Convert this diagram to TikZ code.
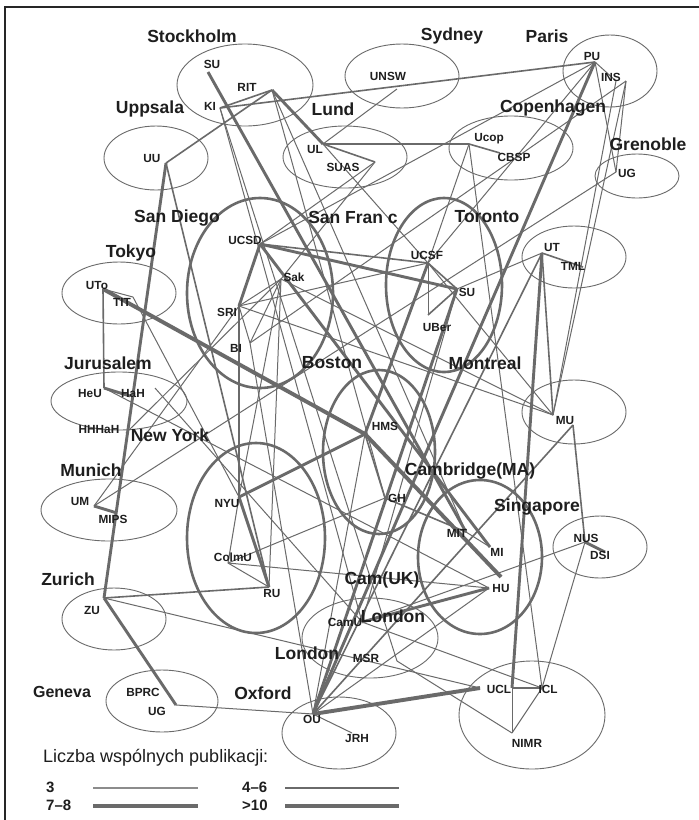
\documentclass[tikz,border=0pt]{standalone}
\usepackage{fontspec}
\setmainfont{Liberation Sans}
\definecolor{lc}{HTML}{6A6A6A}
\definecolor{lcl}{HTML}{8C8C8C}
\definecolor{tc}{HTML}{1E1E1E}
\begin{document}
\begin{tikzpicture}[x=1pt,y=-1pt,
 e3/.style={draw=lc,line width=1pt},
 e46/.style={draw=lc,line width=1.6pt},
 e78/.style={draw=lc,line width=2.9pt},
 e10/.style={draw=lc,line width=3.9pt},
 ell/.style={draw=lc,line width=0.9pt},
 ellT/.style={draw=lc,line width=2.6pt},
 city/.style={font=\fontsize{17.5}{17.5}\selectfont\bfseries,text=tc,inner sep=0pt},
 inst/.style={font=\fontsize{11.8}{11.8}\selectfont\bfseries,text=tc,inner sep=0pt},
 leg/.style={font=\fontsize{15}{15}\selectfont\bfseries,text=tc,inner sep=0pt,anchor=west},
]
\useasboundingbox (0,0) rectangle (699,820);
\fill[white] (0,0) rectangle (699,820);
\draw[line width=1.4pt,draw=black!85] (5,820) -- (5,7) -- (699,7);

% ---------- ellipses ----------
\draw[ell] (245,85) ellipse [x radius=68pt,y radius=41pt];
\draw[ell] (156,158) ellipse [x radius=52pt,y radius=32pt];
\draw[ell] (345,157) ellipse [x radius=62pt,y radius=31pt];
\draw[ell] (402,76) ellipse [x radius=57pt,y radius=32pt];
\draw[ell] (610,71) ellipse [x radius=47pt,y radius=36pt];
\draw[ell] (511,148) ellipse [x radius=62pt,y radius=32pt];
\draw[ell] (637,176) ellipse [x radius=42pt,y radius=22pt];
\draw[ellT] (260,293) ellipse [x radius=73pt,y radius=95pt];
\draw[ellT] (444,285) ellipse [x radius=58pt,y radius=87pt];
\draw[ell] (574,257) ellipse [x radius=52pt,y radius=31pt];
\draw[ell] (119,293) ellipse [x radius=57pt,y radius=31pt];
\draw[ell] (119,401) ellipse [x radius=68pt,y radius=29pt];
\draw[ell] (109,510) ellipse [x radius=68pt,y radius=31pt];
\draw[ellT] (256,538) ellipse [x radius=69pt,y radius=95pt];
\draw[ellT] (379,452) ellipse [x radius=56pt,y radius=82pt];
\draw[ell] (574,412) ellipse [x radius=52pt,y radius=32pt];
\draw[ellT] (480,557) ellipse [x radius=62pt,y radius=77pt];
\draw[ell] (600,547) ellipse [x radius=47pt,y radius=31pt];
\draw[ell] (114,619) ellipse [x radius=52pt,y radius=31pt];
\draw[ell] (162,701) ellipse [x radius=56pt,y radius=31pt];
\draw[ell] (370,638) ellipse [x radius=68pt,y radius=40pt];
\draw[ell] (339,733) ellipse [x radius=57pt,y radius=36pt];
\draw[ell] (532,715) ellipse [x radius=73pt,y radius=54pt];

% ---------- connection points ----------
\coordinate (SUs) at (208,72);
\coordinate (RIT) at (272,90);
\coordinate (KI) at (220,108);
\coordinate (UU) at (166,163);
\coordinate (UL) at (323,144);
\coordinate (SUAS) at (375,162);
\coordinate (UNSW) at (397,89);
\coordinate (PU) at (595,62);
\coordinate (INSa) at (616,81);
\coordinate (INSb) at (626,81);
\coordinate (Ucop) at (469,144);
\coordinate (CBSP) at (500,153);
\coordinate (UGg) at (616,172);
\coordinate (UCSD) at (260,244);
\coordinate (Sak) at (281,279);
\coordinate (SRI) at (239,306);
\coordinate (BI) at (250,343);
\coordinate (UCSF) at (428,263);
\coordinate (SUsf) at (457,289);
\coordinate (UBer) at (428,315);
\coordinate (UT) at (542,253);
\coordinate (TML) at (583,267);
\coordinate (UTo) at (103,289);
\coordinate (TIT) at (133,297);
\coordinate (HeU) at (104,388);
\coordinate (HaH) at (130,396);
\coordinate (HaHr) at (155,388);
\coordinate (HHHaH) at (126,433);
\coordinate (UM) at (94,506);
\coordinate (MIPS) at (117,513);
\coordinate (NYU) at (239,497);
\coordinate (ColmU) at (228,563);
\coordinate (RU) at (269,587);
\coordinate (HMS) at (365,434);
\coordinate (GH) at (385,498);
\coordinate (MIT) at (466,532);
\coordinate (MI) at (490,547);
\coordinate (HUt) at (501,577);
\coordinate (HU) at (489,588);
\coordinate (MU) at (553,415);
\coordinate (MUr) at (573,425);
\coordinate (NUS) at (585,542);
\coordinate (DSI) at (605,552);
\coordinate (ZU) at (104,598);
\coordinate (UGe) at (176,705);
\coordinate (OU) at (313,714);
\coordinate (JRH) at (352,733);
\coordinate (CamU) at (362,622);
\coordinate (MSR) at (397,661);
\coordinate (UCL) at (480,688);
\coordinate (UCLv) at (512,688);
\coordinate (ICL) at (542,688);
\coordinate (NIMR) at (512,733);

% ---------- connections: 3 ----------
\foreach \p/\q in {UL/UNSW, SUAS/UCSD, SUAS/Sak, UCSD/PU, KI/CamU, KI/MSR, RIT/GH, RIT/MIT,
  Ucop/UCSF, Ucop/ICL, UL/UCSF, PU/INSa, PU/UCSF, PU/UGg, INSa/MU, INSb/MU, INSb/UGg, INSb/BI,
  UGg/UM, UT/SUsf, UCSF/UBer, SRI/UCSF, UCSF/MU, SUsf/CamU, Sak/SRI, Sak/BI, SRI/BI, Sak/RU,
  Sak/MU, SRI/MU, NYU/Sak, HHHaH/Sak, TIT/NYU, UTo/TIT, HeU/HU, HaHr/CamU, UM/SRI, ColmU/NYU,
  ColmU/RU, ColmU/HU, ColmU/GH, HMS/OU, OU/BI, OU/JRH, OU/UGe, OU/HU, ZU/UCL, MSR/NIMR,
  UCLv/NIMR, ICL/NIMR, NUS/ICL, NUS/CamU, CamU/ICL, MIT/MI}
  \draw[e3] (\p) -- (\q);
% ---------- connections: 4-6 ----------
\foreach \p/\q in {KI/RIT, KI/PU, RIT/UU, UU/RU, UL/SUAS, UL/Ucop, Ucop/CBSP, UCSD/UCSF,
  UCSF/SUsf, UBer/SUsf, UTo/HeU, HMS/GH, GH/MIT, ZU/RU, UT/TML, MUr/NUS, OU/UT, OU/MUr, UT/MU}
  \draw[e46] (\p) -- (\q);
% ---------- connections: 7-8 ----------
\foreach \p/\q in {SUs/MIT, RIT/UL, UU/ZU, ZU/UGe, UCSD/SRI, SRI/NYU, UCSD/SUsf, UCSD/MI,
  NYU/RU, NYU/HMS, HeU/HaH, UM/MIPS, PU/OU, OU/SUsf, CamU/HU, UT/UCLv, UCLv/ICL, NUS/DSI, UCSF/HMS}
  \draw[e78] (\p) -- (\q);
% ---------- connections: >10 ----------
\foreach \p/\q in {UTo/HMS, HMS/HUt, OU/UCL}
  \draw[e10] (\p) -- (\q);

% ---------- city labels ----------
\node[city] (cSth) at (192,36) {Stockholm};
\node[city] (cSyd) at (452,36) {Sydney};
\node[city] (cPar) at (547,36) {Paris};
\node[city] (cUpp) at (150,109) {Uppsala};
\node[city] (cLun) at (333,109) {Lund};
\node[city] (cCop) at (553,108) {Copenhagen};
\node[city] (cGre) at (648,144) {Grenoble};
\node[city] (cSD) at (177,218) {San Diego};
\node[city] (cSF) at (353,217) {San Fran c};
\node[city] (cTor) at (487,217) {Toronto};
\node[city] (cTok) at (131,253) {Tokyo};
\node[city] (cBos) at (332,363) {Boston};
\node[city] (cMon) at (485,363) {Montreal};
\node[city] (cJer) at (108,363) {Jurusalem};
\node[city] (cNY) at (170,435) {New York};
\node[city] (cMun) at (91,470) {Munich};
\node[city] (cCMA) at (470,471) {Cambridge(MA)};
\node[city] (cSin) at (537,507) {Singapore};
\node[city] (cZur) at (68,579) {Zurich};
\node[city] (cCUK) at (382,580) {Cam(UK)};
\node[city] (cLo1) at (393,616) {London};
\node[city] (cLo2) at (307,653) {London};
\node[city,font=\fontsize{16}{16}\selectfont\bfseries] (cGen) at (62,692) {Geneva};
\node[city] (cOxf) at (263,693) {Oxford};

% ---------- institution labels ----------
\node[inst] (tSU) at (212,64) {SU};
\node[inst] (tRIT) at (247,87) {RIT};
\node[inst] (tKI) at (210,106) {KI};
\node[inst] (tUU) at (152,158) {UU};
\node[inst] (tUL) at (315,149) {UL};
\node[inst] (tSUAS) at (343,167) {SUAS};
\node[inst] (tUNSW) at (388,76) {UNSW};
\node[inst] (tPU) at (592,56) {PU};
\node[inst] (tINS) at (611,77) {INS};
\node[inst] (tUcop) at (489,139) {Ucop};
\node[inst] (tCBSP) at (514,157) {CBSP};
\node[inst] (tUGg) at (627,173) {UG};
\node[inst] (tUCSD) at (245,240) {UCSD};
\node[inst] (tSak) at (294,277) {Sak};
\node[inst] (tSRI) at (227,312) {SRI};
\node[inst] (tBI) at (236,348) {BI};
\node[inst] (tUCSF) at (427,255) {UCSF};
\node[inst] (tSUsf) at (467,292) {SU};
\node[inst] (tUBer) at (437,327) {UBer};
\node[inst] (tUT) at (552,247) {UT};
\node[inst] (tTML) at (573,266) {TML};
\node[inst] (tUTo) at (97,285) {UTo};
\node[inst] (tTIT) at (122,302) {TIT};
\node[inst] (tHeU) at (90,393) {HeU};
\node[inst] (tHaH) at (133,393) {HaH};
\node[inst] (tHHHaH) at (99,429) {HHHaH};
\node[inst] (tUM) at (80,501) {UM};
\node[inst] (tMIPS) at (113,519) {MIPS};
\node[inst] (tNYU) at (227,503) {NYU};
\node[inst] (tColmU) at (233,557) {ColmU};
\node[inst] (tRU) at (272,593) {RU};
\node[inst] (tHMS) at (385,426) {HMS};
\node[inst] (tGH) at (397,498) {GH};
\node[inst] (tMIT) at (457,533) {MIT};
\node[inst] (tMI) at (497,552) {MI};
\node[inst] (tHU) at (501,588) {HU};
\node[inst] (tMU) at (565,420) {MU};
\node[inst] (tNUS) at (586,538) {NUS};
\node[inst] (tDSI) at (600,555) {DSI};
\node[inst] (tZU) at (92,610) {ZU};
\node[inst] (tBPRC) at (143,692) {BPRC};
\node[inst] (tUGe) at (157,711) {UG};
\node[inst] (tOU) at (312,719) {OU};
\node[inst] (tJRH) at (357,738) {JRH};
\node[inst] (tCamU) at (345,622) {CamU};
\node[inst] (tMSR) at (366,658) {MSR};
\node[inst] (tUCL) at (499,689) {UCL};
\node[inst] (tICL) at (548,689) {ICL};
\node[inst] (tNIMR) at (527,743) {NIMR};

% ---------- legend ----------
\node[font=\fontsize{18}{18}\selectfont,text=tc,inner sep=0pt,anchor=west] (legT) at (43,758) {Liczba wspólnych publikacji:};
\node[leg] (l3) at (46,787) {3};
\node[leg] (l78) at (46,805) {7–8};
\node[leg] (l46) at (242,787) {4–6};
\node[leg] (l10) at (242,805) {>10};
\coordinate (a1) at (93,788); \coordinate (a2) at (198,788);
\coordinate (b1) at (93,806); \coordinate (b2) at (198,806);
\coordinate (c1) at (285,788); \coordinate (c2) at (399,788);
\coordinate (d1) at (285,806); \coordinate (d2) at (399,806);
\draw[draw=lcl,line width=1.5pt] (a1) -- (a2);
\draw[draw=lc,line width=4pt] (b1) -- (b2);
\draw[draw=lc,line width=1.8pt] (c1) -- (c2);
\draw[draw=lc,line width=4.8pt] (d1) -- (d2);
\end{tikzpicture}
\end{document}
